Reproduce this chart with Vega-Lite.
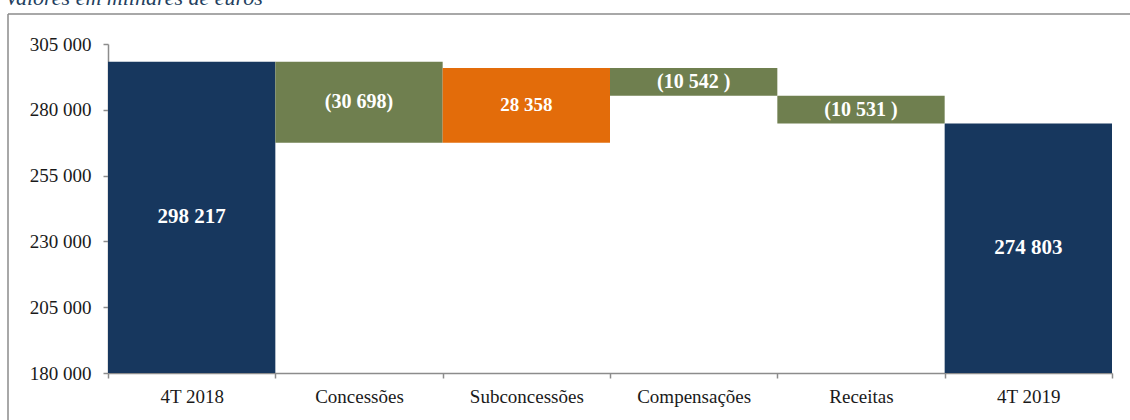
{
  "$schema": "https://vega.github.io/schema/vega-lite/v6.json",
  "autosize": "none",
  "width": 1122,
  "height": 406,
  "padding": {"left": 8, "top": 14, "right": 0, "bottom": 0},
  "background": "white",
  "title": {
    "text": "Valores em milhares de euros",
    "anchor": "start",
    "orient": "top",
    "frame": "group",
    "offset": -13,
    "dx": -3,
    "baseline": "alphabetic",
    "font": "Liberation Serif",
    "fontSize": 22,
    "fontStyle": "italic",
    "fontWeight": "normal",
    "color": "#243f60"
  },
  "config": {
    "view": {
      "stroke": "#8c8c8c",
      "strokeWidth": 1.5,
      "strokeDash": [1122, 1528, 406, 0]
    },
    "axis": {
      "domainColor": "#8c8c8c",
      "domainWidth": 1.5,
      "tickColor": "#8c8c8c",
      "tickWidth": 1.5,
      "tickSize": 5,
      "labelFont": "Liberation Serif",
      "labelFontSize": 19,
      "labelColor": "#1a1a1a",
      "grid": false,
      "title": null
    }
  },
  "data": {
    "values": [
      {"etapa": "4T 2018", "inicio": 180000, "fim": 298217, "tipo": "total", "rotulo": "298 217"},
      {"etapa": "Concessões", "inicio": 298217, "fim": 267519, "tipo": "diminuicao", "rotulo": "(30 698)"},
      {"etapa": "Subconcessões", "inicio": 267519, "fim": 295877, "tipo": "aumento", "rotulo": "28 358"},
      {"etapa": "Compensações", "inicio": 295877, "fim": 285335, "tipo": "diminuicao", "rotulo": "(10 542 )"},
      {"etapa": "Receitas", "inicio": 285335, "fim": 274804, "tipo": "diminuicao", "rotulo": "(10 531 )"},
      {"etapa": "4T 2019", "inicio": 180000, "fim": 274803, "tipo": "total", "rotulo": "274 803"}
    ]
  },
  "encoding": {
    "x": {
      "field": "etapa",
      "type": "nominal",
      "sort": null,
      "scale": {"range": [100, 1104], "paddingInner": 0, "paddingOuter": 0},
      "axis": {"labelAngle": 0, "tickBand": "extent", "offset": -47, "labelPadding": 9}
    }
  },
  "layer": [
    {
      "mark": {"type": "bar"},
      "encoding": {
        "y": {
          "field": "inicio",
          "type": "quantitative",
          "scale": {"domain": [180000, 305000], "range": [359, 30], "nice": false, "zero": false},
          "axis": {
            "values": [180000, 205000, 230000, 255000, 280000, 305000],
            "format": ",d",
            "labelExpr": "replace(datum.label, ',', ' ')",
            "offset": -100,
            "labelPadding": 12
          }
        },
        "y2": {"field": "fim"},
        "color": {
          "field": "tipo",
          "type": "nominal",
          "scale": {
            "domain": ["total", "diminuicao", "aumento"],
            "range": ["#17375e", "#6f7f4f", "#e36c0a"]
          },
          "legend": null
        }
      }
    },
    {
      "transform": [
        {"fold": ["inicio", "fim"], "as": ["extremo", "nivel"]},
        {
          "aggregate": [{"op": "mean", "field": "nivel", "as": "centro"}],
          "groupby": ["etapa", "tipo", "rotulo"]
        }
      ],
      "mark": {
        "type": "text",
        "font": "Liberation Serif",
        "fontWeight": "bold",
        "color": "white",
        "align": "center",
        "baseline": "middle"
      },
      "encoding": {
        "y": {"field": "centro", "type": "quantitative"},
        "text": {"field": "rotulo"},
        "size": {
          "field": "tipo",
          "type": "nominal",
          "scale": {"domain": ["total", "diminuicao", "aumento"], "range": [21, 19, 19]},
          "legend": null
        }
      }
    }
  ]
}
